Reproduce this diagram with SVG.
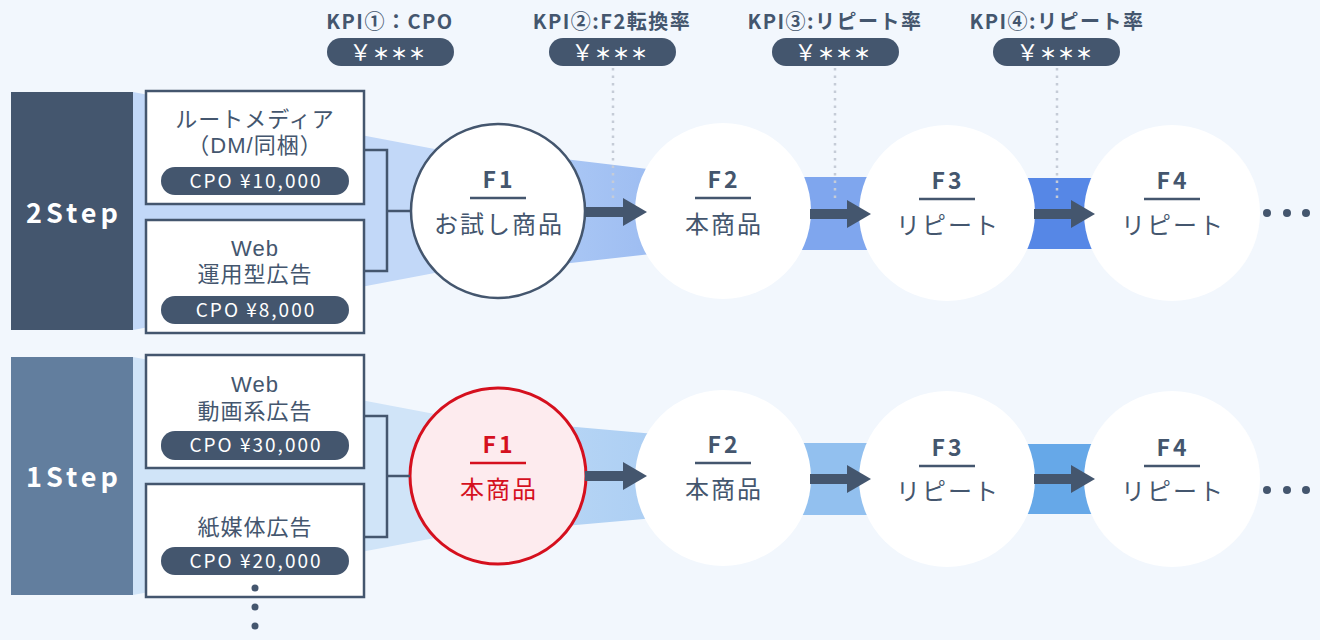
<svg xmlns="http://www.w3.org/2000/svg" width="1320" height="640" viewBox="0 0 1320 640">
<defs>
<style>
.box{fill:#fff;stroke:#44566e;stroke-width:2.5}
.pill{fill:#44566e}
.ptxt{font-family:"Noto Sans CJK JP","Noto Sans",sans-serif;font-size:19px;fill:#fff;text-anchor:middle;letter-spacing:2px}
.btxt{font-family:"Liberation Sans","Noto Sans CJK JP",sans-serif;font-size:22px;fill:#44566e;text-anchor:middle;letter-spacing:1px}
.step{font-family:"Noto Sans CJK JP","Noto Sans",sans-serif;font-size:27px;font-weight:700;fill:#fff;text-anchor:middle;letter-spacing:4px}
.fl{font-family:"Noto Sans CJK JP","Noto Sans",sans-serif;font-size:23px;font-weight:700;fill:#44566e;text-anchor:middle;letter-spacing:3px}
.ft{font-family:"Noto Sans CJK JP","Noto Sans",sans-serif;font-size:24px;fill:#44566e;text-anchor:middle;letter-spacing:2px}
.ul{stroke:#44566e;stroke-width:2.5}
.circ{fill:#fff}
.kpi{font-family:"Noto Sans CJK JP","Noto Sans",sans-serif;font-size:20px;font-weight:700;fill:#44566e;text-anchor:middle;letter-spacing:1.5px}
.ktxt{font-family:"Noto Sans CJK JP","Noto Sans",sans-serif;font-size:17px;font-weight:700;fill:#fff;text-anchor:middle;letter-spacing:1px}
.yen{font-size:22px;font-weight:400}
.dot{stroke:#c5ccd7;stroke-width:2.5;stroke-dasharray:2.5 5}
.br{fill:none;stroke:#44566e;stroke-width:2.5}
.arr{stroke:#44566e;stroke-width:10}
.dk{fill:#44566e}
</style>
<marker id="ah" viewBox="0 0 24 28" refX="0" refY="14" markerWidth="24" markerHeight="28" markerUnits="userSpaceOnUse" orient="auto">
<path d="M0,0 L24,14 L0,28 z" fill="#44566e"/>
</marker>
<linearGradient id="gt1" x1="0" x2="1" y1="0" y2="0"><stop offset="0" stop-color="#b2cef7"/><stop offset="1" stop-color="#94b5ef"/></linearGradient>
<linearGradient id="gb1" x1="0" x2="1" y1="0" y2="0"><stop offset="0" stop-color="#bcd9f6"/><stop offset="1" stop-color="#a6caf2"/></linearGradient>
</defs>
<rect width="1320" height="640" fill="#f2f7fd"/>

<g id="bands">
<polygon points="133,92 133,330 498,261 498,161" fill="#c2d8f8"/>
<polygon points="498,151 723,178 723,246 498,271" fill="url(#gt1)"/>
<rect x="723" y="177" width="225" height="73" fill="#7fa6ee"/>
<rect x="948" y="178" width="225" height="71" fill="#5687e6"/>
<polygon points="133,357 133,595 498,526 498,426" fill="#d0e4f8"/>
<polygon points="498,420 723,440 723,512 498,532" fill="url(#gb1)"/>
<rect x="723" y="443" width="225" height="72" fill="#92c0ef"/>
<rect x="948" y="444" width="225" height="70" fill="#66a8e8"/>
</g>

<g id="step2">
<rect x="11" y="92" width="122" height="238" fill="#44566e"/>
<text class="step" x="74" y="223">2Step</text>
</g>
<g id="step1">
<rect x="11" y="357" width="122" height="238" fill="#627e9e"/>
<text class="step" x="74" y="487">1Step</text>
</g>

<g id="src-route">
<rect class="box" x="146" y="91" width="218" height="113"/>
<text class="btxt" x="255" y="127">ルートメディア</text>
<text class="btxt" x="255" y="153">（DM/同梱）</text>
<rect class="pill" x="161" y="167" width="188" height="28" rx="14"/>
<text class="ptxt" x="256" y="188">CPO ¥10,000</text>
</g>
<g id="src-web">
<rect class="box" x="146" y="220" width="218" height="113"/>
<text class="btxt" x="255" y="256">Web</text>
<text class="btxt" x="255" y="282">運用型広告</text>
<rect class="pill" x="161" y="296" width="188" height="28" rx="14"/>
<text class="ptxt" x="256" y="317">CPO ¥8,000</text>
</g>
<g id="src-video">
<rect class="box" x="146" y="355" width="218" height="113"/>
<text class="btxt" x="255" y="392">Web</text>
<text class="btxt" x="255" y="419">動画系広告</text>
<rect class="pill" x="161" y="431" width="188" height="29" rx="14"/>
<text class="ptxt" x="256" y="452">CPO ¥30,000</text>
</g>
<g id="src-paper">
<rect class="box" x="146" y="484" width="218" height="113"/>
<text class="btxt" x="255" y="535">紙媒体広告</text>
<rect class="pill" x="161" y="547" width="188" height="28" rx="14"/>
<text class="ptxt" x="256" y="568">CPO ¥20,000</text>
</g>
<g id="more-src" class="dk">
<circle cx="255" cy="588" r="3.5"/>
<circle cx="255" cy="607" r="3.5"/>
<circle cx="255" cy="626" r="3.5"/>
</g>

<g id="kpi1">
<text class="kpi" x="390" y="29">KPI①：CPO</text>
<rect class="pill" x="327" y="38" width="127" height="28" rx="14"/>
<text class="ktxt" x="388" y="60"><tspan class="yen">￥</tspan>＊＊＊</text>
</g>
<g id="kpi2">
<text class="kpi" x="612" y="29">KPI②:F2転換率</text>
<rect class="pill" x="549" y="38" width="127" height="28" rx="14"/>
<text class="ktxt" x="610" y="60"><tspan class="yen">￥</tspan>＊＊＊</text>
</g>
<g id="kpi3">
<text class="kpi" x="835" y="29">KPI③:リピート率</text>
<rect class="pill" x="772" y="38" width="127" height="28" rx="14"/>
<text class="ktxt" x="833" y="60"><tspan class="yen">￥</tspan>＊＊＊</text>
</g>
<g id="kpi4">
<text class="kpi" x="1057" y="29">KPI④:リピート率</text>
<rect class="pill" x="993" y="38" width="127" height="28" rx="14"/>
<text class="ktxt" x="1055" y="60"><tspan class="yen">￥</tspan>＊＊＊</text>
</g>

<g id="t-f1">
<circle cx="498" cy="211" r="87" fill="#fff" stroke="#44566e" stroke-width="2.5"/>
<text class="fl" x="499" y="188">F1</text>
<line class="ul" x1="470" y1="198" x2="526" y2="198"/>
<text class="ft" x="499" y="233">お試し商品</text>
</g>
<g id="t-f2">
<circle class="circ" cx="723" cy="211" r="88"/>
<text class="fl" x="724" y="188">F2</text>
<line class="ul" x1="695" y1="198" x2="751" y2="198"/>
<text class="ft" x="724" y="233">本商品</text>
</g>
<g id="t-f3">
<circle class="circ" cx="947" cy="213" r="88"/>
<text class="fl" x="948" y="189">F3</text>
<line class="ul" x1="919" y1="199" x2="975" y2="199"/>
<text class="ft" x="948" y="234">リピート</text>
</g>
<g id="t-f4">
<circle class="circ" cx="1172" cy="213" r="88"/>
<text class="fl" x="1173" y="189">F4</text>
<line class="ul" x1="1144" y1="199" x2="1200" y2="199"/>
<text class="ft" x="1173" y="234">リピート</text>
</g>
<g id="t-more" class="dk">
<circle cx="1267" cy="213" r="4"/>
<circle cx="1287" cy="213" r="4"/>
<circle cx="1306" cy="213" r="4"/>
</g>

<g id="b-f1">
<circle cx="498" cy="476" r="88" fill="#fdebee" stroke="#d5101e" stroke-width="3"/>
<text class="fl" x="499" y="453" style="fill:#d5101e">F1</text>
<line x1="470" y1="463" x2="526" y2="463" stroke="#d5101e" stroke-width="2.5"/>
<text class="ft" x="499" y="498" style="fill:#d5101e">本商品</text>
</g>
<g id="b-f2">
<circle class="circ" cx="723" cy="478" r="88"/>
<text class="fl" x="724" y="453">F2</text>
<line class="ul" x1="695" y1="463" x2="751" y2="463"/>
<text class="ft" x="724" y="498">本商品</text>
</g>
<g id="b-f3">
<circle class="circ" cx="947" cy="479" r="88"/>
<text class="fl" x="948" y="456">F3</text>
<line class="ul" x1="919" y1="466" x2="975" y2="466"/>
<text class="ft" x="948" y="500">リピート</text>
</g>
<g id="b-f4">
<circle class="circ" cx="1172" cy="479" r="88"/>
<text class="fl" x="1173" y="456">F4</text>
<line class="ul" x1="1144" y1="466" x2="1200" y2="466"/>
<text class="ft" x="1173" y="500">リピート</text>
</g>
<g id="b-more" class="dk">
<circle cx="1267" cy="490" r="4"/>
<circle cx="1287" cy="490" r="4"/>
<circle cx="1306" cy="490" r="4"/>
</g>

<g id="connectors">
<polyline class="br" points="364,150 387,150 387,271 364,271"/>
<line class="br" x1="387" y1="211" x2="411" y2="211"/>
<polyline class="br" points="364,416 387,416 387,537 364,537"/>
<line class="br" x1="387" y1="476" x2="410" y2="476"/>
<line class="dot" x1="613" y1="68" x2="613" y2="202"/>
<line class="dot" x1="835" y1="68" x2="835" y2="202"/>
<line class="dot" x1="1057" y1="68" x2="1057" y2="202"/>
<line class="arr" x1="585" y1="212" x2="623" y2="212" marker-end="url(#ah)"/>
<line class="arr" x1="810" y1="214" x2="847" y2="214" marker-end="url(#ah)"/>
<line class="arr" x1="1034" y1="214" x2="1071" y2="214" marker-end="url(#ah)"/>
<line class="arr" x1="585" y1="476" x2="623" y2="476" marker-end="url(#ah)"/>
<line class="arr" x1="810" y1="479" x2="847" y2="479" marker-end="url(#ah)"/>
<line class="arr" x1="1034" y1="479" x2="1071" y2="479" marker-end="url(#ah)"/>
</g>
</svg>
